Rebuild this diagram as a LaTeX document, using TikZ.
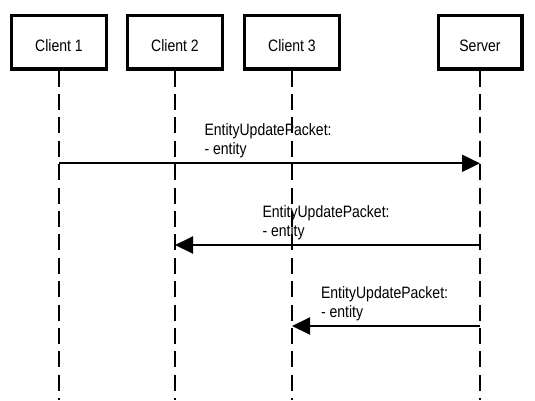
\documentclass[tikz,border=0pt]{standalone}
\usepackage{fontspec}
\setmainfont{Liberation Sans}[FakeStretch=0.85]
\usetikzlibrary{positioning,arrows.meta}
\tikzset{
  actor/.style={draw, line width=3.4pt, minimum width=94.6pt, minimum height=53.6pt,
                inner sep=0pt, text height=19pt, text depth=0pt},
  lifeline/.style={line width=2pt, dash pattern=on 16pt off 7.4pt},
  msg/.style={line width=2pt, -{Triangle[length=18pt,width=17pt]}},
  msglabel/.style={anchor=south west, inner sep=0pt, align=left,
                   xshift=-66pt, yshift=4.5pt}
}
\begin{document}
\begin{tikzpicture}[x=1pt, y=1pt, font=\fontsize{16.5}{19}\selectfont]
          \useasboundingbox (0,0) rectangle (535,-400);
          \coordinate (bottom) at (0,-400);
          \coordinate (m1) at (0,-163.3);
          \coordinate (m2) at (0,-245);
          \coordinate (m3) at (0,-326);

          \node (c1)  [actor] at (59,-42)           {Client 1};
          \node (c2)  [actor, right=18pt of c1]     {Client 2};
          \node (c3)  [actor, right=19pt of c2]     {Client 3};
          \node (srv) [actor, minimum width=83.6pt, right=95.5pt of c3] {Server};

          \draw [lifeline] (c1.south)  -- (c1 |- bottom);
          \draw [lifeline] (c2.south)  -- (c2 |- bottom);
          \draw [lifeline] (c3.south)  -- (c3 |- bottom);
          \draw [lifeline] (srv.south) -- (srv |- bottom);

          \draw [msg] (c1 |- m1)  to node [msglabel] {EntityUpdatePacket:\\- entity} (srv |- m1);
          \draw [msg] (srv |- m2) to node [msglabel] {EntityUpdatePacket:\\- entity} (c2 |- m2);
          \draw [msg] (srv |- m3) to node [msglabel] {EntityUpdatePacket:\\- entity} (c3 |- m3);
        \end{tikzpicture}
\end{document}
